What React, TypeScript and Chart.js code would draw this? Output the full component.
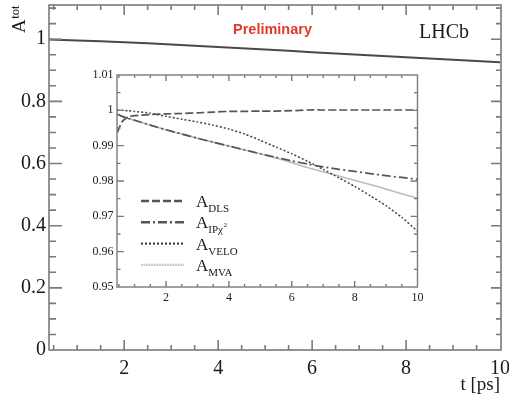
import React, { useEffect, useRef } from 'react';
import { Chart, registerables } from 'chart.js';

Chart.register(...registerables);

const SERIF = '"Liberation Serif", "Times New Roman", serif';
const SANS = '"Liberation Sans", Arial, sans-serif';

// Main plot: total acceptance vs decay time
const mainT = [0.4, 1, 2, 3, 4, 5, 6, 7, 8, 9, 10];
const mainA = [0.999, 0.996, 0.990, 0.983, 0.975, 0.967, 0.958, 0.950, 0.942, 0.934, 0.926];
const mainXTicks = [2, 4, 6, 8, 10];
const mainXTickLabels = ['2', '4', '6', '8', '10'];
const mainYTicks = [0, 0.2, 0.4, 0.6, 0.8, 1];
const mainYTickLabels = ['0', '0.2', '0.4', '0.6', '0.8', '1'];

// Inset: individual acceptance components
const insetT = [0.45, 0.6, 0.8, 1, 1.5, 2, 2.5, 3, 3.5, 4, 4.5, 5, 5.5, 6, 6.5, 7, 7.5, 8, 8.5, 9, 9.5, 10];
const aDLS = [0.9937, 0.9968, 0.9981, 0.9985, 0.9988, 0.999, 0.9991, 0.9993, 0.9995, 0.9997, 0.9997, 0.9998, 0.9998, 0.9999, 1.0001, 1.0001, 1.0001, 1.0001, 1.0001, 1.0001, 1.0001, 1.0001];
const aIP = [0.9989, 0.9983, 0.9977, 0.9972, 0.9958, 0.9945, 0.9933, 0.9921, 0.991, 0.9899, 0.9888, 0.9877, 0.9867, 0.9857, 0.9848, 0.984, 0.9833, 0.9827, 0.9821, 0.9815, 0.981, 0.9805];
const aVELO = [1.0001, 1.0, 0.9999, 0.9997, 0.9992, 0.9983, 0.9975, 0.9967, 0.9958, 0.9947, 0.9933, 0.9915, 0.9896, 0.9877, 0.9856, 0.9833, 0.9809, 0.9785, 0.9758, 0.973, 0.9697, 0.9658];
const aMVA = [0.9989, 0.9983, 0.9977, 0.9972, 0.9958, 0.9945, 0.9933, 0.9921, 0.991, 0.9899, 0.9888, 0.9877, 0.9865, 0.9852, 0.9838, 0.9826, 0.9814, 0.9802, 0.979, 0.9777, 0.9764, 0.9751];
const insetXTicks = [2, 4, 6, 8, 10];
const insetXTickLabels = ['2', '4', '6', '8', '10'];
const insetYTicks = [0.95, 0.96, 0.97, 0.98, 0.99, 1.0, 1.01];
const insetYTickLabels = ['0.95', '0.96', '0.97', '0.98', '0.99', '1', '1.01'];
const legendSubs = ['DLS', 'IPχ', 'VELO', 'MVA'];
const legendSups = ['', '2', '', ''];

const FRAME = '#7a7a7a';

type TickCfg = {
  xStep: number; yStep: number; yMajEvery: number;
  bMaj: number; bMin: number; tMaj: number; tMin: number;
  lMaj: number; lMin: number; rMaj: number; rMin: number;
  lw: number;
};

function framePlugin(id: string, c: TickCfg) {
  return {
    id,
    afterDraw(chart: any) {
      const { ctx, chartArea: a, scales } = chart;
      const xs = scales.x, ys = scales.y;
      ctx.save();
      ctx.strokeStyle = FRAME;
      ctx.lineWidth = c.lw;
      ctx.strokeRect(a.left, a.top, a.right - a.left, a.bottom - a.top);
      ctx.beginPath();
      const eps = 1e-6;
      const x0 = Math.ceil((xs.min - eps) / c.xStep);
      const x1 = Math.floor((xs.max + eps) / c.xStep);
      for (let k = x0; k <= x1; k++) {
        const v = k * c.xStep;
        const px = xs.getPixelForValue(v);
        if (px < a.left + 1 || px > a.right - 1) continue;
        const isMaj = k % 4 === 0;
        const bl = isMaj ? c.bMaj : c.bMin;
        const tl = isMaj ? c.tMaj : c.tMin;
        ctx.moveTo(px, a.bottom); ctx.lineTo(px, a.bottom - bl);
        ctx.moveTo(px, a.top); ctx.lineTo(px, a.top + tl);
      }
      const y0 = Math.ceil((ys.min - eps) / c.yStep);
      const y1 = Math.floor((ys.max + eps) / c.yStep);
      for (let k = y0; k <= y1; k++) {
        const v = k * c.yStep;
        const py = ys.getPixelForValue(v);
        if (py < a.top + 1 || py > a.bottom - 1) continue;
        const isMaj = k % c.yMajEvery === 0;
        const ll = isMaj ? c.lMaj : c.lMin;
        const rl = isMaj ? c.rMaj : c.rMin;
        ctx.moveTo(a.left, py); ctx.lineTo(a.left + ll, py);
        ctx.moveTo(a.right, py); ctx.lineTo(a.right - rl, py);
      }
      ctx.stroke();
      ctx.restore();
    },
  };
}

const mainTextPlugin = {
  id: 'mainText',
  afterDraw(chart: any) {
    const { ctx } = chart;
    ctx.save();
    ctx.fillStyle = '#1a1a1a';
    // y axis title (rotated)
    ctx.save();
    ctx.translate(25, 33);
    ctx.rotate(-Math.PI / 2);
    ctx.font = `19px ${SERIF}`;
    ctx.textBaseline = 'alphabetic';
    ctx.textAlign = 'left';
    ctx.fillText('A', 0, 0);
    const w = ctx.measureText('A').width;
    ctx.font = `12.5px ${SERIF}`;
    ctx.fillText('tot', w + 0.5, -6.5);
    ctx.restore();
    // x axis title
    ctx.font = `19px ${SERIF}`;
    ctx.textAlign = 'right';
    ctx.textBaseline = 'alphabetic';
    ctx.fillText('t [ps]', 500, 390);
    // LHCb
    ctx.textAlign = 'left';
    ctx.font = `20px ${SERIF}`;
    ctx.fillText('LHCb', 419, 38);
    // Preliminary
    ctx.fillStyle = '#e03a26';
    ctx.font = `bold 14.5px ${SANS}`;
    ctx.fillText('Preliminary', 233, 34);
    ctx.restore();
  },
};

const insetLegendPlugin = {
  id: 'insetLegend',
  afterDraw(chart: any) {
    const { ctx } = chart;
    const ds = chart.data.datasets;
    ctx.save();
    ds.forEach((d: any, i: number) => {
      const y = 201 + i * 21.3;
      ctx.beginPath();
      ctx.strokeStyle = d.borderColor;
      ctx.lineWidth = i === 3 ? 2.2 : 2.4;
      ctx.setLineDash(i === 3 ? [1, 0.6] : d.borderDash || []);
      ctx.moveTo(141, y);
      ctx.lineTo(184, y);
      ctx.stroke();
      ctx.setLineDash([]);
      ctx.fillStyle = '#1a1a1a';
      ctx.textBaseline = 'alphabetic';
      ctx.textAlign = 'left';
      ctx.font = `17px ${SERIF}`;
      const tx = 196, ty = y + 6;
      ctx.fillText('A', tx, ty);
      const wa = ctx.measureText('A').width;
      ctx.font = `11px ${SERIF}`;
      ctx.fillText(legendSubs[i], tx + wa, ty + 5);
      const ws = ctx.measureText(legendSubs[i]).width;
      if (legendSups[i]) {
        ctx.font = `7px ${SERIF}`;
        ctx.fillText(legendSups[i], tx + wa + ws + 0.5, ty - 1);
      }
    });
    ctx.restore();
  },
};

const zeroPad = (s: any) => {
  s.paddingLeft = 0;
  s.paddingRight = 0;
  s.paddingTop = 0;
  s.paddingBottom = 0;
};

export default function App() {
  const mainRef = useRef<HTMLCanvasElement>(null);
  const insetRef = useRef<HTMLCanvasElement>(null);

  useEffect(() => {
    document.body.style.margin = '0';
    const mainChart = new Chart(mainRef.current as HTMLCanvasElement, {
      type: 'line',
      data: {
        datasets: [
          {
            data: mainT.map((t, i) => ({ x: t, y: mainA[i] })),
            borderColor: '#4a4a4a',
            borderWidth: 2,
            pointRadius: 0,
            fill: false,
            tension: 0.2,
          },
        ],
      },
      options: {
        responsive: false,
        animation: false,
        devicePixelRatio: 1,
        layout: { padding: { top: 5, right: 8, left: 0, bottom: 0 } },
        plugins: { legend: { display: false }, tooltip: { enabled: false } },
        scales: {
          x: {
            type: 'linear',
            min: 0.4,
            max: 10.02,
            grid: { display: false, drawTicks: false },
            border: { display: false },
            afterBuildTicks: (s: any) => {
              s.ticks = mainXTicks.map((v) => ({ value: v }));
            },
            afterFit: (s: any) => {
              s.height = 45;
              zeroPad(s);
            },
            ticks: {
              autoSkip: false,
              maxRotation: 0,
              padding: 7,
              color: '#1a1a1a',
              font: { family: SERIF, size: 20 },
              callback: (_v: any, i: number) => mainXTickLabels[i],
            },
          },
          y: {
            type: 'linear',
            min: 0,
            max: 1.11,
            grid: { display: false, drawTicks: false },
            border: { display: false },
            afterBuildTicks: (s: any) => {
              s.ticks = mainYTicks.map((v) => ({ value: v }));
            },
            afterFit: (s: any) => {
              s.width = 49;
              zeroPad(s);
            },
            ticks: {
              autoSkip: false,
              padding: 3,
              color: '#1a1a1a',
              font: { family: SERIF, size: 20 },
              callback: (_v: any, i: number) => mainYTickLabels[i],
            },
          },
        },
      },
      plugins: [
        framePlugin('mainFrame', {
          xStep: 0.5, yStep: 0.05, yMajEvery: 4,
          bMaj: 10, bMin: 5, tMaj: 10, tMin: 5,
          lMaj: 13, lMin: 7, rMaj: 10, rMin: 5, lw: 1.6,
        }),
        mainTextPlugin,
      ],
    } as any);

    const line = (data: number[], color: string, dash: number[], width: number) => ({
      data: insetT.map((t, i) => ({ x: t, y: data[i] })),
      borderColor: color,
      borderDash: dash,
      borderWidth: width,
      pointRadius: 0,
      fill: false,
      tension: 0.2,
    });

    const insetChart = new Chart(insetRef.current as HTMLCanvasElement, {
      type: 'line',
      data: {
        datasets: [
          { label: 'A_DLS', ...line(aDLS, '#555555', [8, 3], 1.7) },
          { label: 'A_IPchi2', ...line(aIP, '#555555', [9, 3, 2, 3], 1.7) },
          { label: 'A_VELO', ...line(aVELO, '#444444', [2, 2], 1.5) },
          { label: 'A_MVA', ...line(aMVA, '#bdbdbd', [], 1.6) },
        ],
      },
      options: {
        responsive: false,
        animation: false,
        devicePixelRatio: 1,
        layout: { padding: { top: 75, right: 91.5, left: 0, bottom: 0 } },
        plugins: { legend: { display: false }, tooltip: { enabled: false } },
        scales: {
          x: {
            type: 'linear',
            min: 0.44,
            max: 10.0,
            grid: { display: false, drawTicks: false },
            border: { display: false },
            afterBuildTicks: (s: any) => {
              s.ticks = insetXTicks.map((v) => ({ value: v }));
            },
            afterFit: (s: any) => {
              s.height = 108;
              zeroPad(s);
            },
            ticks: {
              autoSkip: false,
              maxRotation: 0,
              padding: 4,
              color: '#1a1a1a',
              font: { family: SERIF, size: 12 },
              callback: (_v: any, i: number) => insetXTickLabels[i],
            },
          },
          y: {
            type: 'linear',
            min: 0.95,
            max: 1.01,
            grid: { display: false, drawTicks: false },
            border: { display: false },
            afterBuildTicks: (s: any) => {
              s.ticks = insetYTicks.map((v) => ({ value: v }));
            },
            afterFit: (s: any) => {
              s.width = 117;
              zeroPad(s);
            },
            ticks: {
              autoSkip: false,
              padding: 3.5,
              color: '#1a1a1a',
              font: { family: SERIF, size: 12 },
              callback: (_v: any, i: number) => insetYTickLabels[i],
            },
          },
        },
      },
      plugins: [
        framePlugin('insetFrame', {
          xStep: 0.5, yStep: 0.005, yMajEvery: 2,
          bMaj: 6, bMin: 3, tMaj: 6, tMin: 3,
          lMaj: 7, lMin: 3.5, rMaj: 7, rMin: 3.5, lw: 1.4,
        }),
        insetLegendPlugin,
      ],
    } as any);

    return () => {
      mainChart.destroy();
      insetChart.destroy();
    };
  }, []);

  return (
    <div style={{ position: 'relative', width: 509, height: 395, background: '#fff' }}>
      <canvas ref={mainRef} width={509} height={395} style={{ position: 'absolute', left: 0, top: 0 }} />
      <canvas ref={insetRef} width={509} height={395} style={{ position: 'absolute', left: 0, top: 0 }} />
    </div>
  );
}
